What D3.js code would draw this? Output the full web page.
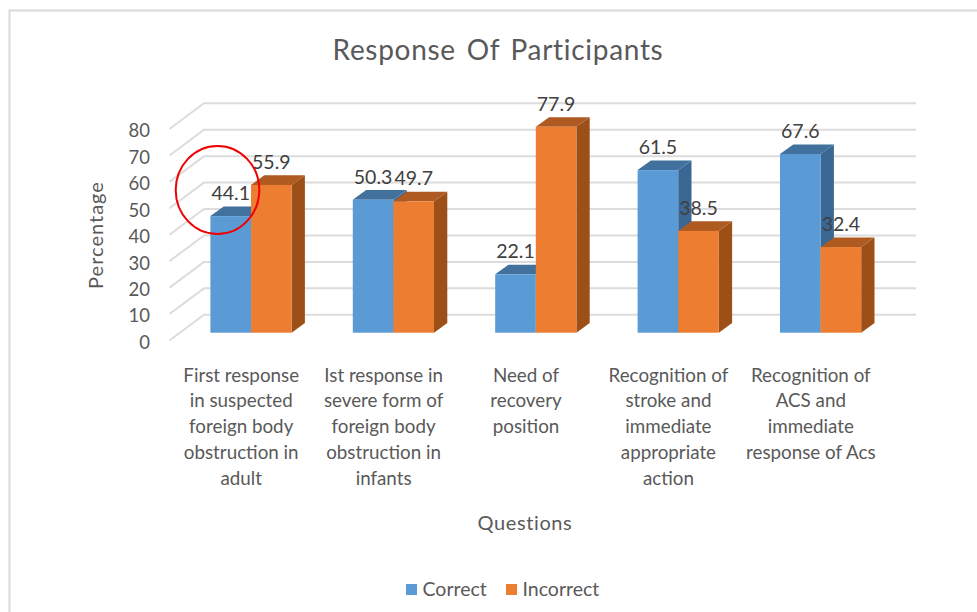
<!DOCTYPE html>
<html>
<head>
<meta charset="utf-8">
<script src="https://d3js.org/d3.v7.min.js"></script>
<style>
	body { margin: 0; background: #fff; }
	text { font-family: Lato, "Open Sans", sans-serif; fill: #595959; }
</style>
</head>
<body>
<div id="graph-area"></div>
<script>
const categories = [
	["First response", "in suspected", "foreign body", "obstruction in", "adult"],
	["Ist response in", "severe form of", "foreign body", "obstruction in", "infants"],
	["Need of", "recovery", "position"],
	["Recognition of", "stroke and", "immediate", "appropriate", "action"],
	["Recognition of", "ACS and", "immediate", "response of Acs"]
];
const correct = [44.1, 50.3, 22.1, 61.5, 67.6];
const incorrect = [55.9, 49.7, 77.9, 38.5, 32.4];
const seriesNames = ["Correct", "Incorrect"];
const yTicks = [0, 10, 20, 30, 40, 50, 60, 70, 80];

const w = 977;
const h = 612;

// fake 3d depth, taken from the bars
const barDx = 13.3;
const barDy = -9.6;
const wallDx = 34.5;
const wallDy = -25.7;

const colors = ["#5b9bd5", "#ed7d31"];
const topColors = ["#41719c", "#ae5a21"];
const sideColors = ["#3b6795", "#9c5018"];

const svg = d3.select("#graph-area").append("svg")
	.attr("width", w)
	.attr("height", h)
	.style("display", "block");

// outer frame
svg.append("path")
	.attr("d", "M9.5,612V10.5H977")
	.attr("fill", "none")
	.attr("stroke", "#d9d9d9")
	.attr("stroke-width", 2);

const xScale = d3.scaleBand()
	.domain(d3.range(categories.length))
	.range([170, 882]);

const yScale = d3.scaleLinear()
	.domain([0, 80])
	.range([340.5, 129]);

const barWidth = 40.6;
const baseY = 332.7;
const barH = (v) => yScale(0) - yScale(v);
const barOffset = 9.8;

// floor and wall grid lines
svg.append("g")
	.selectAll("path")
	.data(yTicks)
	.enter()
	.append("path")
	.attr("d", (d) => {
		const y = yScale(d);
		return "M169.5," + y + "L" + (169.5 + wallDx) + "," + (y + wallDy) + "H916";
	})
	.attr("fill", "none")
	.attr("stroke", "#dcdcdc")
	.attr("stroke-width", 2);

const yAxis = d3.axisLeft(yScale).tickValues(yTicks).tickSize(0).tickPadding(0);
const yG = svg.append("g")
	.attr("transform", "translate(150,2)")
	.call(yAxis);
yG.select(".domain").remove();
yG.selectAll("text").style("font-size", "18.5px").attr("fill", "#595959");

const xAxis = d3.axisBottom(xScale).tickSize(0).tickFormat("");
const xG = svg.append("g")
	.attr("transform", "translate(0,362)")
	.call(xAxis);
xG.select(".domain").remove();
xG.selectAll(".tick text")
	.attr("y", 0)
	.attr("dy", 0)
	.each(function (d) {
		d3.select(this).selectAll("tspan")
			.data(categories[d])
			.enter()
			.append("tspan")
			.attr("x", 0)
			.attr("y", (t, i) => 19.5 + i * 25.8)
			.style("font-size", "18.8px")
			.text((t) => t);
	});

// bars, drawn back to front per group
const series = [correct, incorrect];
categories.forEach((c, i) => {
	const groupX = xScale(i) + xScale.bandwidth() / 2 - barWidth + barOffset;
	series.forEach((vals, s) => {
		const x = groupX + s * barWidth;
		const t = baseY - barH(vals[i]);
		const g = svg.append("g");
		// side face
		g.append("path")
			.attr("d", "M" + (x + barWidth) + "," + t + "l" + barDx + "," + barDy + "V" + (baseY + barDy) + "l" + (-barDx) + "," + (-barDy) + "Z")
			.attr("fill", sideColors[s]);
		// top face
		g.append("path")
			.attr("d", "M" + x + "," + t + "l" + barDx + "," + barDy + "h" + barWidth + "l" + (-barDx) + "," + (-barDy) + "Z")
			.attr("fill", topColors[s]);
		g.append("rect")
			.attr("x", x)
			.attr("y", t)
			.attr("width", barWidth)
			.attr("height", barH(vals[i]))
			.attr("fill", colors[s]);
	});
});

// data labels go on top of all bars
categories.forEach((c, i) => {
	const groupX = xScale(i) + xScale.bandwidth() / 2 - barWidth + barOffset;
	series.forEach((vals, s) => {
		svg.append("text")
			.attr("x", groupX + s * barWidth + barWidth / 2)
			.attr("y", baseY - barH(vals[i]) - 16)
			.attr("text-anchor", "middle")
			.style("font-size", "19.5px")
			.style("fill", "#404040")
			.text(vals[i]);
	});
});

// red hand drawn circle
svg.append("ellipse")
	.attr("cx", 217.5)
	.attr("cy", 190)
	.attr("rx", 41.8)
	.attr("ry", 44)
	.attr("fill", "none")
	.attr("stroke", "#f00000")
	.attr("stroke-width", 2);

svg.append("text")
	.attr("x", 498)
	.attr("y", 60)
	.attr("text-anchor", "middle")
	.style("font-size", "28px")
	.style("letter-spacing", "0.7px")
	.style("word-spacing", "3px")
	.text("Response Of Participants");

svg.append("text")
	.attr("transform", "translate(103,235) rotate(-90)")
	.attr("text-anchor", "middle")
	.style("font-size", "20px")
	.style("letter-spacing", "1px")
	.text("Percentage");

svg.append("text")
	.attr("x", 525)
	.attr("y", 530)
	.attr("text-anchor", "middle")
	.style("font-size", "20px")
	.style("letter-spacing", "0.6px")
	.text("Questions");

// legend
const legendX = [406, 506];
seriesNames.forEach((name, s) => {
	svg.append("rect")
		.attr("x", legendX[s])
		.attr("y", 584)
		.attr("width", 11)
		.attr("height", 11)
		.attr("fill", colors[s]);
	svg.append("text")
		.attr("x", legendX[s] + 16.5)
		.attr("y", 596)
		.style("font-size", "19.5px")
		.text(name);
});
</script>
</body>
</html>
